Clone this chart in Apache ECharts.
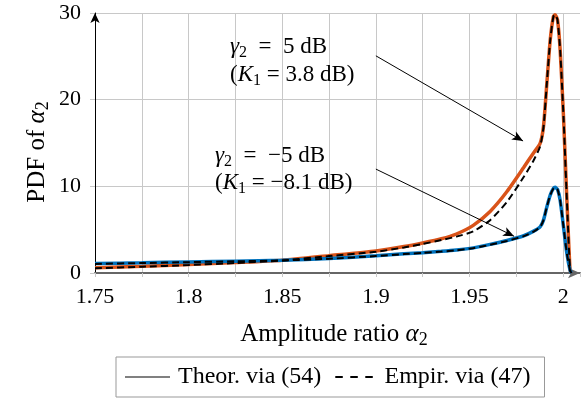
<!DOCTYPE html>
<html>
<head>
<meta charset="utf-8">
<script src="https://cdn.jsdelivr.net/npm/echarts@6/dist/echarts.min.js"></script>
<style>
html,body{margin:0;padding:0;background:#fff;}
#c{width:586px;height:407px;}
</style>
</head>
<body>
<div id="c"></div>
<script>
// ---- data ----
var xVals = [1.75, 1.775, 1.8, 1.825, 1.85, 1.875, 1.9, 1.915, 1.925, 1.935, 1.943, 1.952, 1.961, 1.97, 1.979, 1.984, 1.9877, 1.9895, 1.9913, 1.9931, 1.9948, 1.9957, 1.997, 1.9984, 2.0002, 2.002, 2.0037, 2.0045];
var theorHigh = [0.62, 0.78, 0.97, 1.2, 1.47, 2.0, 2.55, 3.05, 3.47, 3.95, 4.5, 5.5, 7.1, 9.4, 12.2, 13.8, 14.96, 16.9, 21.9, 26.9, 29.6, 29.8, 29.2, 25.75, 18.0, 8.4, 0.3, 0];
var empirHigh = [0.55, 0.72, 0.92, 1.15, 1.45, 1.95, 2.45, 2.95, 3.35, 3.8, 4.2, 4.8, 6.1, 8.2, 11.1, 12.9, 14.6, 16.8, 21.9, 26.9, 29.6, 29.8, 29.2, 25.75, 18.0, 8.4, 0.3, 0];
var theorLow = [1.09, 1.18, 1.28, 1.37, 1.47, 1.67, 2.0, 2.22, 2.35, 2.5, 2.65, 2.9, 3.3, 3.75, 4.3, 4.8, 5.32, 6.1, 7.63, 8.99, 9.76, 9.88, 9.64, 8.4, 5.32, 2.24, 0.31, 0];
var empirLow = [1.05, 1.15, 1.25, 1.35, 1.45, 1.64, 1.96, 2.18, 2.32, 2.47, 2.62, 2.86, 3.25, 3.7, 4.25, 4.75, 5.3, 6.1, 7.63, 8.99, 9.76, 9.88, 9.64, 8.4, 5.32, 2.24, 0.31, 0];
var xTickValues = [1.75, 1.8, 1.85, 1.9, 1.95, 2.0];
var xTickLabels = ['1.75', '1.8', '1.85', '1.9', '1.95', '2'];
var yTickLabels = ['0', '10', '20', '30'];
var legendNames = ['Theor. via (54)', 'Empir. via (47)'];
var arrowHigh = [[1.9, 25.06], [1.9786, 15.23]];
var arrowLow = [[1.9, 11.99], [1.9738, 4.24]];

function pairs(ys) { return xVals.map(function (x, i) { return [x, ys[i]]; }); }

var FONT = '"Liberation Serif", "DejaVu Serif", serif';
function richSet(fs) {
  return {
    i: { fontFamily: FONT, fontSize: fs, fontStyle: 'italic', color: '#000', verticalAlign: 'middle' },
    n: { fontFamily: FONT, fontSize: fs, color: '#000', verticalAlign: 'middle' },
    s: { fontFamily: FONT, fontSize: Math.round(fs * 0.7), color: '#000', verticalAlign: 'bottom' }
  };
}
var richLabel = richSet(25);
var richNote = richSet(23);

var chart = echarts.init(document.getElementById('c'), null, { renderer: 'canvas' });

function arrowLine(coords) {
  return {
    silent: true,
    symbol: ['none', 'arrow'],
    symbolSize: [7, 11],
    label: { show: false },
    lineStyle: { color: '#000', width: 1, type: 'solid' },
    emphasis: { disabled: true },
    data: [[{ coord: coords[0] }, { coord: coords[1] }]]
  };
}

var option = {
  animation: false,
  backgroundColor: '#fff',
  grid: { left: 95, right: 6, top: 13, bottom: 134, containLabel: false },
  xAxis: {
    type: 'value', min: 1.75, max: 2.009, interval: 0.025,
    axisLine: { onZero: false, lineStyle: { color: '#666', width: 2 }, symbol: ['none', 'arrow'], symbolSize: [8, 12] },
    axisTick: { show: true, length: 4, lineStyle: { color: '#c8c8c8' } },
    axisLabel: {
      margin: 13, color: '#000', fontFamily: FONT, fontSize: 22,
      showMaxLabel: true,
      formatter: function (v) {
        for (var k = 0; k < xTickValues.length; k++) {
          if (Math.abs(v - xTickValues[k]) < 1e-6) return xTickLabels[k];
        }
        return '';
      }
    },
    splitLine: { show: true, showMaxLine: false, lineStyle: { color: '#c8c8c8', width: 1 } }
  },
  yAxis: {
    type: 'value', min: 0, max: 30, interval: 10,
    axisLine: { show: true, lineStyle: { color: '#000', width: 1 }, symbol: ['none', 'arrow'], symbolSize: [7, 10] },
    axisTick: { show: true, length: 5, lineStyle: { color: '#c8c8c8' } },
    axisLabel: {
      margin: 14, color: '#000', fontFamily: FONT, fontSize: 22,
      formatter: function (v) { return yTickLabels[Math.round(v / 10)]; }
    },
    splitLine: { show: true, showMinLine: false, lineStyle: { color: '#c8c8c8', width: 1 } }
  },
  legend: {
    data: [
      { name: legendNames[0], icon: 'path://M0,0h45v2h-45z' },
      { name: legendNames[1], icon: 'path://M0,0h9v2.4h-9zM18,0h9v2.4h-9zM36,0h9v2.4h-9z' }
    ],
    left: 116, top: 357,
    padding: [8, 14, 8, 9],
    itemGap: 14, itemWidth: 45, itemHeight: 2,
    borderColor: '#999', borderWidth: 1, borderRadius: 0,
    textStyle: { fontFamily: FONT, fontSize: 24, color: '#000', padding: [0, 0, 0, 3] },
    selectedMode: false
  },
  series: [
    { name: legendNames[0], type: 'line', data: [], symbol: 'none', lineStyle: { color: '#808080', width: 2 }, itemStyle: { color: '#808080' } },
    { name: legendNames[1], type: 'line', data: [], symbol: 'none', lineStyle: { color: '#000', width: 2, type: [8, 6] }, itemStyle: { color: '#000' } },
    { name: 'theorHigh', type: 'line', data: pairs(theorHigh), symbol: 'none', smooth: 0.2, lineStyle: { color: '#D95319', width: 3.5 }, z: 3,
      markLine: arrowLine(arrowHigh) },
    { name: 'theorLow', type: 'line', data: pairs(theorLow), symbol: 'none', smooth: 0.2, lineStyle: { color: '#0072BD', width: 3.5 }, z: 3,
      markLine: arrowLine(arrowLow) },
    { name: 'empirHigh', type: 'line', data: pairs(empirHigh), symbol: 'none', smooth: 0.2, lineStyle: { color: '#000', width: 2, type: [7, 4] }, z: 4 },
    { name: 'empirLow', type: 'line', data: pairs(empirLow), symbol: 'none', smooth: 0.2, lineStyle: { color: '#000', width: 2, type: [7, 4] }, z: 4 }
  ],
  graphic: [
    { type: 'text', x: 334, y: 334, z: 10, style: { text: '{n|Amplitude ratio }{i|α}{s|2}', rich: richLabel, lineHeight: 30, align: 'center', verticalAlign: 'middle' } },
    { type: 'text', x: 37, y: 152, rotation: Math.PI / 2, z: 10, style: { text: '{n|PDF of }{i|α}{s|2}', rich: richLabel, lineHeight: 30, align: 'center', verticalAlign: 'middle' } },
    { type: 'text', x: 230, y: 47, z: 10, style: { text: '{i|γ}{s|2}{n|  =  5 dB}', rich: richNote, lineHeight: 28, verticalAlign: 'middle' } },
    { type: 'text', x: 230, y: 75, z: 10, style: { text: '{n|(}{i|K}{s|1}{n| = 3.8 dB)}', rich: richNote, lineHeight: 28, verticalAlign: 'middle' } },
    { type: 'text', x: 215, y: 156, z: 10, style: { text: '{i|γ}{s|2}{n|  =  −5 dB}', rich: richNote, lineHeight: 28, verticalAlign: 'middle' } },
    { type: 'text', x: 215, y: 183, z: 10, style: { text: '{n|(}{i|K}{s|1}{n| = −8.1 dB)}', rich: richNote, lineHeight: 28, verticalAlign: 'middle' } }
  ]
};
chart.setOption(option);
</script>
</body>
</html>
